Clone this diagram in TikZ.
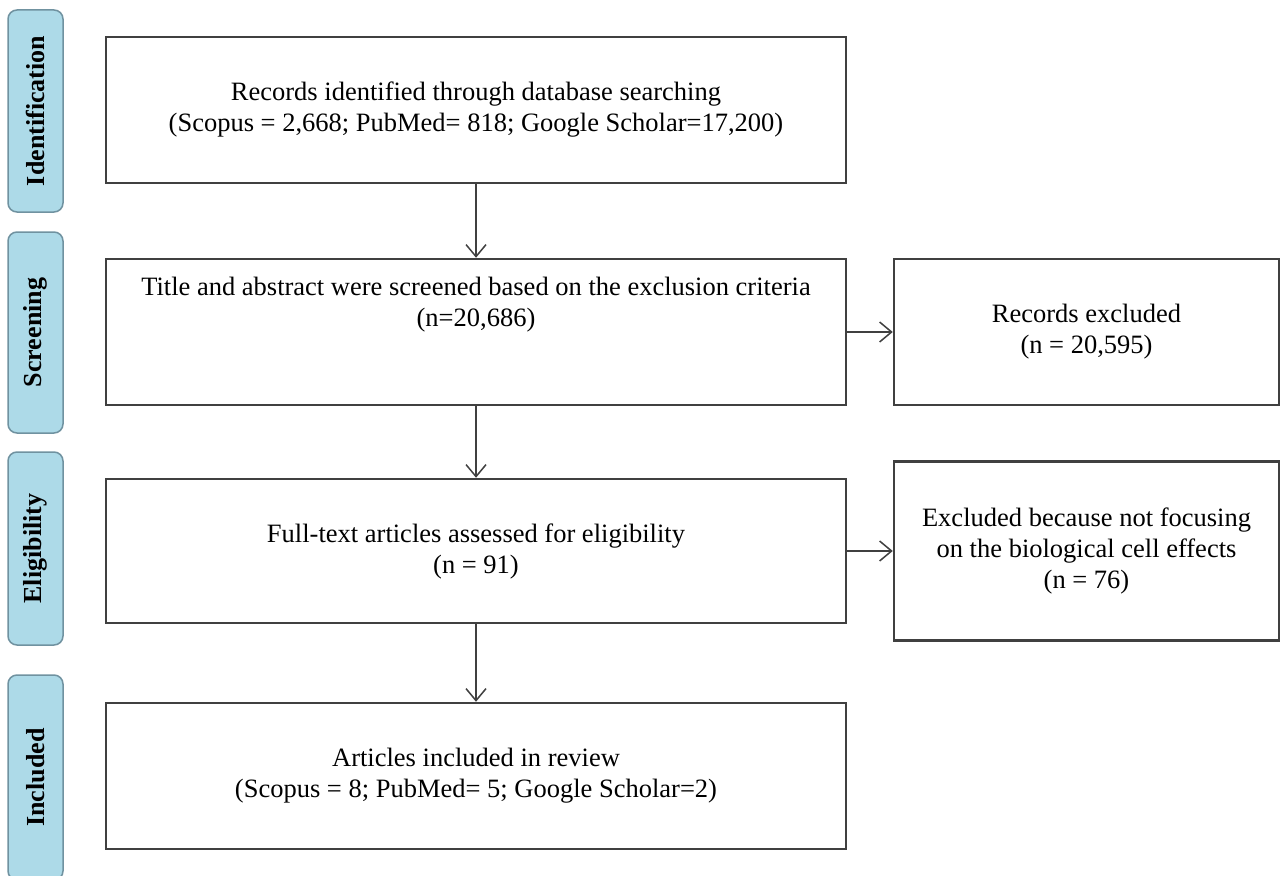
\documentclass[tikz,border=0pt]{standalone}
\usepackage{fontspec}
\setmainfont{Liberation Serif}
\usetikzlibrary{arrows.meta}
\definecolor{tabblue}{RGB}{173,218,232}
\definecolor{tabedge}{RGB}{112,146,160}
\definecolor{boxedge}{RGB}{64,64,64}

\begin{document}
\begin{tikzpicture}[x=1pt,y=-1pt,
    stage/.style={draw=tabedge,fill=tabblue,line width=1.5pt,rounded corners=9pt,rotate=90,
        inner sep=0pt,minimum height=55pt,font=\fontsize{26}{30}\selectfont\bfseries},
    flowbox/.style={draw=boxedge,line width=2.5pt,inner sep=0pt,align=center,
        font=\fontsize{26.5}{31}\selectfont},
    flowarrow/.style={draw=boxedge,line width=1.5pt,
        -{Straight Barb[length=12pt,width=20pt,line width=1.5pt]}}]
    \clip (0,0) rectangle (1281,875);
    \fill[white] (0,0) rectangle (1281,875);
    \node[stage,minimum width=202pt] (ident) at (35.5,111) {Identification};
    \node[stage,minimum width=201pt] (screen) at (35.5,332.5) {Screening};
    \node[stage,minimum width=193pt] (elig) at (35.5,548.5) {Eligibility};
    \node[stage,minimum width=205pt] (incl) at (35.5,777.5) {Included};
    \node[flowbox,minimum width=740pt,minimum height=146pt] (records) at (476,110)
        {Records identified through database searching\\(Scopus = 2,668; PubMed= 818; Google Scholar=17,200)};
    \node[flowbox,minimum width=740pt,minimum height=146pt] (title) at (476,332) {};
    \node[align=center,font=\fontsize{26.5}{31}\selectfont] (titletext) at (476,305)
        {Title and abstract were screened based on the exclusion criteria\\(n=20,686)};
    \node[flowbox,minimum width=385pt,minimum height=146pt] (recexcl) at (1086.5,332)
        {Records excluded\\(n = 20,595)};
    \node[flowbox,minimum width=740pt,minimum height=144pt] (fulltext) at (476,551)
        {Full-text articles assessed for eligibility\\(n = 91)};
    \node[flowbox,minimum width=385pt,minimum height=179pt] (excl) at (1086.5,551)
        {Excluded because not focusing\\on the biological cell effects\\(n = 76)};
    \node[flowbox,minimum width=740pt,minimum height=146pt] (included) at (476,776)
        {Articles included in review\\(Scopus = 8; PubMed= 5; Google Scholar=2)};
    \draw[flowarrow] (records) -- (title);
    \draw[flowarrow] (title) -- (fulltext);
    \draw[flowarrow] (fulltext) -- (included);
    \draw[flowarrow] (title) -- (recexcl);
    \draw[flowarrow] (fulltext) -- (excl);
\end{tikzpicture}
\end{document}
